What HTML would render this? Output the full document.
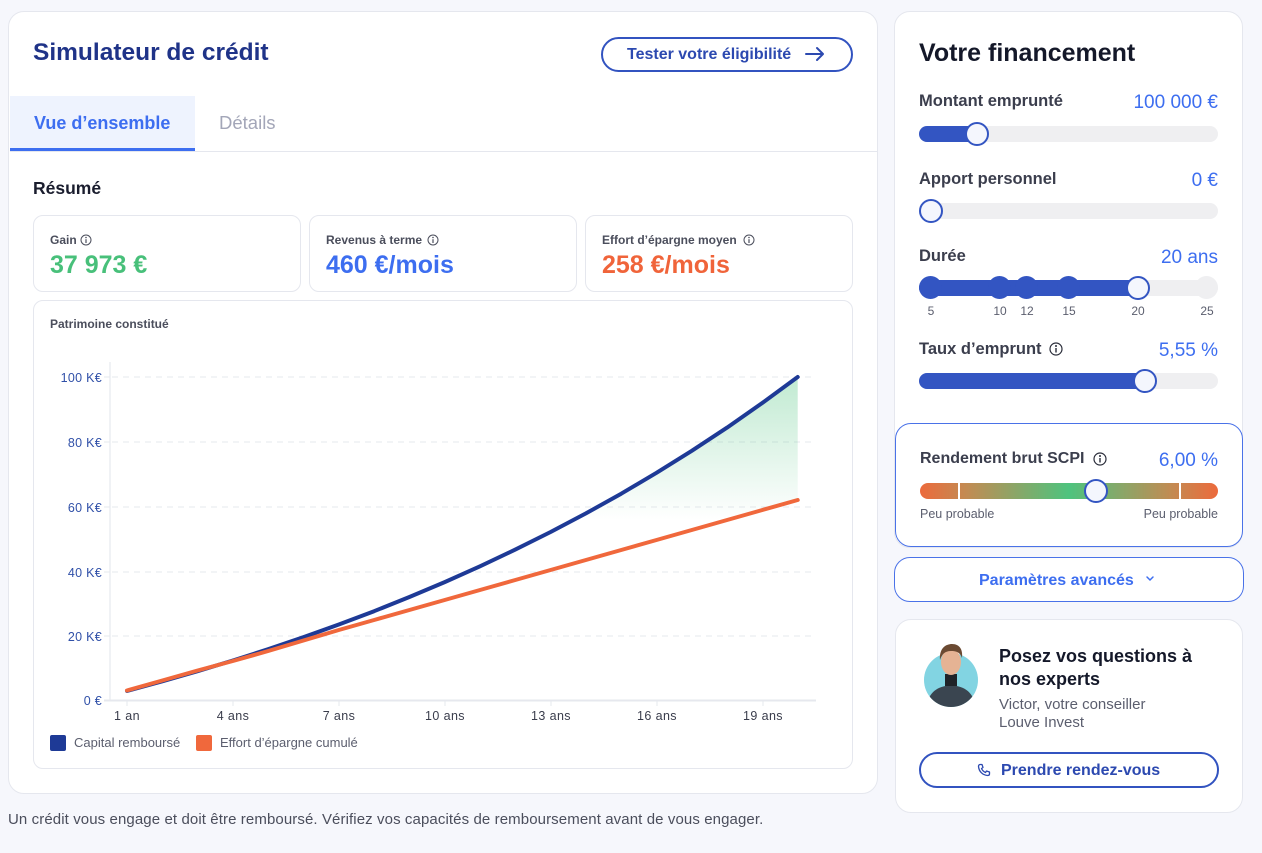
<!DOCTYPE html>
<html><head><meta charset="utf-8">
<style>
*{box-sizing:border-box;margin:0;padding:0}
html,body{width:1262px;height:853px;overflow:hidden;background:#f6f7fc;font-family:"Liberation Sans",Arial,sans-serif}
.a{position:absolute;white-space:nowrap}
.card{position:absolute;background:#fff;border:1px solid #e5e7ee}
.lbl{font-size:16.5px;font-weight:700;color:#3b3e4d;line-height:20px}
.val{font-size:19px;color:#3d6ef0;line-height:22px;text-align:right}
.track{position:absolute;left:919px;width:299px;height:16px;border-radius:8px;background:#efeff1}
.fill{position:absolute;left:0;top:0;height:16px;border-radius:8px;background:#3355c2}
.thumb{position:absolute;width:24px;height:24px;border-radius:50%;background:#f4f6fd;border:2px solid #3355c2}
.dot{position:absolute;width:23px;height:23px;border-radius:50%;background:#3355c2}
.num{font-size:12px;color:#5b5e6e;line-height:14px;transform:translateX(-50%)}
.sl{font-size:12px;font-weight:700;color:#4b4e5c;line-height:14px}
.sv{font-size:25px;font-weight:700;line-height:30px}
</style></head><body>

<!-- Left main card -->
<div class="card" style="left:8px;top:11px;width:870px;height:783px;border-radius:16px"></div>
<div class="a" style="left:33px;top:39px;font-size:24.5px;font-weight:700;color:#1f3388;line-height:28px">Simulateur de crédit</div>
<div class="a" style="left:601px;top:37px;width:252px;height:35px;border:2px solid #3253c0;border-radius:18px"></div>
<div class="a" style="left:627px;top:45px;font-size:16px;font-weight:700;color:#2c49b0;line-height:20px">Tester votre éligibilité</div>
<svg class="a" style="left:804px;top:45px" width="22" height="18" viewBox="0 0 22 18"><path d="M2 9H19M13 3L19 9L13 15" fill="none" stroke="#2c49b0" stroke-width="2" stroke-linecap="round" stroke-linejoin="round"/></svg>

<!-- tabs -->
<div class="a" style="left:10px;top:96px;width:185px;height:55px;background:#eef3fe;border-bottom:3px solid #3d6ef0"></div>
<div class="a" style="left:10px;top:151px;width:867px;height:1px;background:#e5e7ee"></div>
<div class="a" style="left:34px;top:112px;font-size:18px;font-weight:700;color:#3d6ef0;line-height:22px">Vue d’ensemble</div>
<div class="a" style="left:219px;top:112px;font-size:18.5px;color:#a3a6b8;line-height:22px">Détails</div>

<div class="a" style="left:33px;top:177px;font-size:17.5px;font-weight:700;color:#1a1d2e;line-height:22px">Résumé</div>

<!-- stat cards -->
<div class="card" style="left:33px;top:215px;width:268px;height:77px;border-radius:10px"></div>
<div class="card" style="left:309px;top:215px;width:268px;height:77px;border-radius:10px"></div>
<div class="card" style="left:585px;top:215px;width:268px;height:77px;border-radius:10px"></div>

<div class="a sl" style="left:50px;top:233px">Gain</div>
<svg class="a" style="left:80px;top:234px" width="12" height="12"><circle cx="6" cy="6" r="5" fill="none" stroke="#4b4e5c" stroke-width="1"/><path d="M6 5.2V9" stroke="#4b4e5c" stroke-width="1.2"/><circle cx="6" cy="3.5" r=".8" fill="#4b4e5c"/></svg>
<div class="a sv" style="left:50px;top:250px;color:#48c07a">37 973 €</div>

<div class="a sl" style="left:326px;top:233px">Revenus à terme</div>
<svg class="a" style="left:427px;top:234px" width="12" height="12"><circle cx="6" cy="6" r="5" fill="none" stroke="#4b4e5c" stroke-width="1"/><path d="M6 5.2V9" stroke="#4b4e5c" stroke-width="1.2"/><circle cx="6" cy="3.5" r=".8" fill="#4b4e5c"/></svg>
<div class="a sv" style="left:326px;top:250px;color:#3d6ef0">460 €/mois</div>

<div class="a sl" style="left:602px;top:233px">Effort d’épargne moyen</div>
<svg class="a" style="left:743px;top:234px" width="12" height="12"><circle cx="6" cy="6" r="5" fill="none" stroke="#4b4e5c" stroke-width="1"/><path d="M6 5.2V9" stroke="#4b4e5c" stroke-width="1.2"/><circle cx="6" cy="3.5" r=".8" fill="#4b4e5c"/></svg>
<div class="a sv" style="left:602px;top:250px;color:#f0643a">258 €/mois</div>

<!-- chart card -->
<div class="card" style="left:33px;top:300px;width:820px;height:469px;border-radius:10px"></div>
<div class="a sl" style="left:50px;top:317px">Patrimoine constitué</div>

<svg class="a" style="left:0;top:0" width="1262" height="853" viewBox="0 0 1262 853">
  <defs>
    <linearGradient id="gf" x1="0" y1="378" x2="0" y2="520" gradientUnits="userSpaceOnUse">
      <stop offset="0" stop-color="#4ec37e" stop-opacity="0.35"/>
      <stop offset="1" stop-color="#4ec37e" stop-opacity="0"/>
    </linearGradient>
  </defs>
  <line x1="110" y1="362" x2="110" y2="700" stroke="#eceef2" stroke-width="1.5"/>
  <g stroke="#e6e8ee" stroke-width="1" stroke-dasharray="6 5">
    <line x1="112" y1="377" x2="815" y2="377"/>
    <line x1="112" y1="442" x2="815" y2="442"/>
    <line x1="112" y1="507" x2="815" y2="507"/>
    <line x1="112" y1="572" x2="815" y2="572"/>
    <line x1="112" y1="636" x2="815" y2="636"/>
  </g>
  <g stroke="#e6e8ee" stroke-width="1">
    <line x1="104" y1="377" x2="110" y2="377"/>
    <line x1="104" y1="442" x2="110" y2="442"/>
    <line x1="104" y1="507" x2="110" y2="507"/>
    <line x1="104" y1="572" x2="110" y2="572"/>
    <line x1="104" y1="636" x2="110" y2="636"/>
    <line x1="127" y1="701" x2="127" y2="706"/>
    <line x1="233" y1="701" x2="233" y2="706"/>
    <line x1="339" y1="701" x2="339" y2="706"/>
    <line x1="445" y1="701" x2="445" y2="706"/>
    <line x1="551" y1="701" x2="551" y2="706"/>
    <line x1="657" y1="701" x2="657" y2="706"/>
    <line x1="763" y1="701" x2="763" y2="706"/>
  </g>
  <line x1="104" y1="700.5" x2="816" y2="700.5" stroke="#e6e8ee" stroke-width="2"/>
  <g font-family="Liberation Sans, Arial, sans-serif" font-size="12.5" fill="#3050a8" text-anchor="end" letter-spacing="0.3">
    <text x="102" y="382">100 K€</text>
    <text x="102" y="447">80 K€</text>
    <text x="102" y="512">60 K€</text>
    <text x="102" y="577">40 K€</text>
    <text x="102" y="641">20 K€</text>
    <text x="102" y="705">0 €</text>
  </g>
  <g font-family="Liberation Sans, Arial, sans-serif" font-size="12.5" fill="#3a3d4c" text-anchor="middle" letter-spacing="0.4">
    <text x="127" y="720">1 an</text>
    <text x="233" y="720">4 ans</text>
    <text x="339" y="720">7 ans</text>
    <text x="445" y="720">10 ans</text>
    <text x="551" y="720">13 ans</text>
    <text x="657" y="720">16 ans</text>
    <text x="763" y="720">19 ans</text>
  </g>
  <path d="M127,690.9 L162.3,681.3 L197.6,671.2 L232.9,660.5 L268.2,649.2 L303.5,637.2 L338.8,624.5 L374.1,611.2 L409.4,597 L444.7,582.1 L480,566.3 L515.3,549.6 L550.6,532 L585.9,513.4 L621.2,493.7 L656.5,472.8 L691.8,450.8 L727.1,427.6 L762.4,402.9 L797.7,377 L797.7,500 L762.4,510 L727.1,520 L691.8,530 L656.5,540 L621.2,550 L585.9,560 L550.6,570 L515.3,580 L480,590 L444.7,600 L409.4,610 L374.1,620 L338.8,630 L303.5,640 L268.2,650 L232.9,660 L197.6,670 L162.3,680 L127,690 Z" fill="url(#gf)"/>
  <polyline points="127,690.9 162.3,681.3 197.6,671.2 232.9,660.5 268.2,649.2 303.5,637.2 338.8,624.5 374.1,611.2 409.4,597 444.7,582.1 480,566.3 515.3,549.6 550.6,532 585.9,513.4 621.2,493.7 656.5,472.8 691.8,450.8 727.1,427.6 762.4,402.9 797.7,377" fill="none" stroke="#1e3a96" stroke-width="4" stroke-linecap="round" stroke-linejoin="round"/>
  <polyline points="127,690.5 162.3,680.5 197.6,670.5 232.9,661 268.2,651 303.5,640.5 338.8,630 374.1,620 409.4,610 444.7,600 480,590 515.3,580 550.6,570 585.9,560 621.2,550 656.5,540 691.8,530 727.1,520 762.4,510 797.7,500" fill="none" stroke="#f0683c" stroke-width="4" stroke-linecap="round" stroke-linejoin="round"/>
</svg>

<div class="a" style="left:50px;top:735px;width:16px;height:16px;background:#1e3a96;border-radius:2px"></div>
<div class="a" style="left:74px;top:735px;font-size:13px;color:#5b5e6e;line-height:16px">Capital remboursé</div>
<div class="a" style="left:196px;top:735px;width:16px;height:16px;background:#f0683c;border-radius:2px"></div>
<div class="a" style="left:220px;top:735px;font-size:13px;color:#5b5e6e;line-height:16px">Effort d’épargne cumulé</div>

<div class="a" style="left:8px;top:811px;font-size:15px;color:#4b4e5c;line-height:18px;letter-spacing:0.1px">Un crédit vous engage et doit être remboursé. Vérifiez vos capacités de remboursement avant de vous engager.</div>

<!-- Right card -->
<div class="card" style="left:894px;top:11px;width:349px;height:537px;border-radius:16px"></div>
<div class="a" style="left:919px;top:38px;font-size:25px;font-weight:700;color:#141829;line-height:30px">Votre financement</div>

<div class="a lbl" style="left:919px;top:91px">Montant emprunté</div>
<div class="a val" style="right:44px;top:92px">100 000 €</div>
<div class="track" style="top:126px"><div class="fill" style="width:60px"></div></div>
<div class="thumb" style="left:965px;top:122px"></div>

<div class="a lbl" style="left:919px;top:169px">Apport personnel</div>
<div class="a val" style="right:44px;top:170px">0 €</div>
<div class="track" style="top:203px"></div>
<div class="thumb" style="left:919px;top:199px"></div>

<div class="a lbl" style="left:919px;top:246px">Durée</div>
<div class="a val" style="right:44px;top:247px">20 ans</div>
<div class="track" style="top:280px"><div class="fill" style="width:220px"></div></div>
<div class="dot" style="top:276px;background:#efeff1;left:1195px"></div>
<div class="dot" style="left:919px;top:276px"></div>
<div class="dot" style="left:988px;top:276px"></div>
<div class="dot" style="left:1015px;top:276px"></div>
<div class="dot" style="left:1057px;top:276px"></div>
<div class="thumb" style="left:1126px;top:276px"></div>
<div class="a num" style="left:931px;top:304px">5</div>
<div class="a num" style="left:1000px;top:304px">10</div>
<div class="a num" style="left:1027px;top:304px">12</div>
<div class="a num" style="left:1069px;top:304px">15</div>
<div class="a num" style="left:1138px;top:304px">20</div>
<div class="a num" style="left:1207px;top:304px">25</div>

<div class="a lbl" style="left:919px;top:339px">Taux d’emprunt</div>
<svg class="a" style="left:1049px;top:342px" width="14" height="14"><circle cx="7" cy="7" r="6" fill="none" stroke="#2a2d3a" stroke-width="1.2"/><path d="M7 6V10.5" stroke="#2a2d3a" stroke-width="1.4"/><circle cx="7" cy="4" r="1" fill="#2a2d3a"/></svg>
<div class="a val" style="right:44px;top:340px">5,55 %</div>
<div class="track" style="top:373px"><div class="fill" style="width:226px"></div></div>
<div class="thumb" style="left:1133px;top:369px"></div>

<!-- SCPI box -->
<div class="a" style="left:895px;top:423px;width:348px;height:124px;border:1px solid #4a72e8;border-radius:16px;background:#fff"></div>
<div class="a lbl" style="left:920px;top:449px;font-size:16px">Rendement brut SCPI</div>
<svg class="a" style="left:1093px;top:452px" width="14" height="14"><circle cx="7" cy="7" r="6" fill="none" stroke="#2a2d3a" stroke-width="1.2"/><path d="M7 6V10.5" stroke="#2a2d3a" stroke-width="1.4"/><circle cx="7" cy="4" r="1" fill="#2a2d3a"/></svg>
<div class="a val" style="right:44px;top:450px">6,00 %</div>
<div class="a" style="left:920px;top:483px;width:298px;height:16px;border-radius:8px;background:linear-gradient(90deg,#ec6a3c 0%,#c48a52 15%,#4ec37e 50%,#c48a52 85%,#ec6a3c 100%)"></div>
<div class="a" style="left:958px;top:483px;width:2px;height:16px;background:#fff"></div>
<div class="a" style="left:1179px;top:483px;width:2px;height:16px;background:#fff"></div>
<div class="thumb" style="left:1084px;top:479px"></div>
<div class="a" style="left:920px;top:507px;font-size:12.5px;color:#5b5e6e;line-height:14px">Peu probable</div>
<div class="a" style="right:44px;top:507px;font-size:12.5px;color:#5b5e6e;line-height:14px">Peu probable</div>

<!-- Paramètres avancés -->
<div class="a" style="left:894px;top:557px;width:350px;height:45px;border:1px solid #4a72e8;border-radius:16px;background:#fff"></div>
<div class="a" style="left:979px;top:571px;font-size:16px;font-weight:700;color:#3d6ef0;line-height:20px">Paramètres avancés</div>
<svg class="a" style="left:1145px;top:575px" width="10" height="8"><path d="M2 2L5 5L8 2" fill="none" stroke="#3d6ef0" stroke-width="1.5" stroke-linecap="round"/></svg>

<!-- Expert card -->
<div class="card" style="left:895px;top:619px;width:348px;height:194px;border-radius:16px"></div>
<svg class="a" style="left:920px;top:640px" width="64" height="70" viewBox="0 0 64 70">
  <defs><clipPath id="cp"><path d="M4,40 A27,27 0 1,0 58,40 L58,0 L4,0 Z"/></clipPath></defs>
  <circle cx="31" cy="40" r="27" fill="#82d4e2"/>
  <g clip-path="url(#cp)">
    <path d="M6,70 C8,52 16,47 31,45 C46,47 54,52 56,70 Z" fill="#3a4550"/>
    <rect x="25" y="34" width="12" height="12" fill="#1f2328"/>
    <ellipse cx="31" cy="22" rx="10" ry="13" fill="#e5b394"/>
    <path d="M20,20 C19,8 26,4 32,4 C40,4 43,10 42,18 C40,12 36,11 31,11 C25,11 22,14 20,20 Z" fill="#6b4a32"/>
  </g>
</svg>
<div class="a" style="left:999px;top:645px;font-size:18px;font-weight:700;color:#141829;line-height:22px">Posez vos questions à</div>
<div class="a" style="left:999px;top:668px;font-size:18px;font-weight:700;color:#141829;line-height:22px">nos experts</div>
<div class="a" style="left:999px;top:696px;font-size:15px;color:#5b5e6e;line-height:18px">Victor, votre conseiller</div>
<div class="a" style="left:999px;top:714px;font-size:15px;color:#5b5e6e;line-height:18px">Louve Invest</div>
<div class="a" style="left:919px;top:752px;width:300px;height:36px;border:2px solid #3253c0;border-radius:18px"></div>
<svg class="a" style="left:977px;top:763px" width="14" height="14" viewBox="0 0 14 14"><path d="M3 1.5L5 1.5L6 4.5L4.5 5.5C5.3 7.3 6.7 8.7 8.5 9.5L9.5 8L12.5 9L12.5 11C12.5 12 11.5 12.5 10.5 12.5C5.5 12 2 8.5 1.5 3.5C1.5 2.5 2 1.5 3 1.5Z" fill="none" stroke="#2c49b0" stroke-width="1.3" stroke-linejoin="round"/></svg>
<div class="a" style="left:1001px;top:761px;font-size:16px;font-weight:700;color:#2c49b0;line-height:20px">Prendre rendez-vous</div>

</body></html>
